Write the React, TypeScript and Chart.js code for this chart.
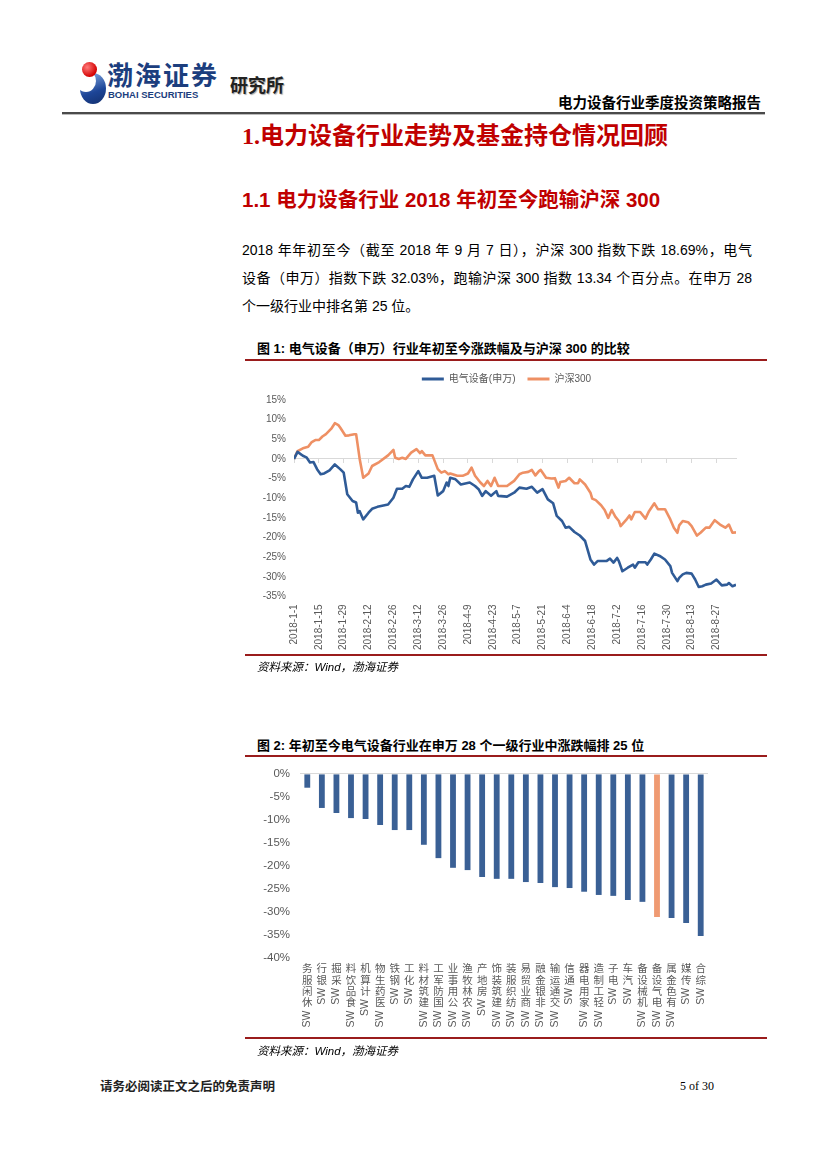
import React, { useEffect, useRef } from 'react';
import { Chart, registerables } from 'chart.js';

Chart.register(...registerables);

// ---------- Figure 1 data ----------
const lineSeriesNames = ['电气设备(申万)', '沪深300'];
// calendar days since 2018-1-1 used for the x ticks
const tickDays = [0, 14, 28, 42, 56, 70, 84, 98, 112, 126, 140, 154, 168, 182, 196, 210, 224, 238];
const tickLabels = ['2018-1-1', '2018-1-15', '2018-1-29', '2018-2-12', '2018-2-26', '2018-3-12', '2018-3-26', '2018-4-9', '2018-4-23', '2018-5-7', '2018-5-21', '2018-6-4', '2018-6-18', '2018-7-2', '2018-7-16', '2018-7-30', '2018-8-13', '2018-8-27'];
const xDayMin = 0;
const xDayMax = 249;
const yPctMin1 = -35;
const yPctMax1 = 15;

const elecDays = [0, 2, 5, 7, 9, 11, 13, 15, 17, 20, 23, 26, 28, 30, 33, 35, 36, 37, 39, 42, 44, 47, 53, 56, 58, 61, 63, 65, 67, 70, 72, 75, 79, 81, 84, 86, 87, 88, 91, 94, 99, 102, 104, 106, 108, 111, 114, 115, 120, 124, 127, 131, 134, 137, 140, 143, 146, 148, 151, 153, 155, 158, 161, 164, 167, 169, 171, 176, 178, 180, 182, 183, 185, 188, 191, 192, 194, 198, 199, 201, 203, 206, 209, 212, 213, 216, 217, 219, 221, 224, 226, 228, 230, 232, 235, 238, 241, 244, 245, 247, 249];
const elecValues = [0, 1.8, 0.8, 0.4, -0.9, -0.8, -2.6, -3.9, -3.7, -2.9, -1.4, -2.6, -3.5, -9.0, -10.7, -11.1, -13.7, -13.3, -15.4, -13.7, -12.7, -12.2, -11.6, -9.9, -7.6, -7.6, -6.9, -7.1, -5.2, -3.1, -4.8, -4.8, -4.3, -9.3, -8.2, -6.0, -6.9, -4.8, -5.2, -6.5, -6.0, -6.9, -7.7, -9.4, -8.2, -9.4, -8.2, -9.4, -9.6, -8.6, -7.3, -7.6, -7.1, -8.6, -7.7, -10.3, -11.3, -14.5, -15.8, -17.5, -17.3, -18.6, -19.5, -20.9, -25.6, -26.9, -26.0, -26.0, -25.4, -26.4, -25.2, -26.0, -28.6, -27.7, -26.9, -27.7, -26.3, -26.3, -26.9, -25.6, -24.1, -24.7, -25.6, -27.3, -29.0, -31.1, -30.3, -29.4, -29.0, -29.2, -30.7, -32.6, -32.4, -32.0, -31.7, -30.7, -32.2, -32.0, -31.6, -32.4, -32.03];

const hs300Days = [0, 2, 5, 8, 10, 12, 14, 16, 18, 21, 23, 25, 26, 29, 31, 34, 35, 37, 39, 42, 44, 48, 53, 56, 57, 59, 61, 63, 66, 69, 71, 72, 74, 78, 81, 83, 85, 87, 88, 92, 95, 98, 100, 102, 105, 107, 109, 111, 113, 115, 120, 124, 127, 129, 132, 134, 136, 138, 139, 142, 145, 147, 149, 150, 153, 155, 158, 160, 161, 164, 167, 168, 170, 173, 175, 177, 179, 181, 183, 184, 187, 189, 190, 192, 195, 198, 200, 203, 205, 209, 212, 214, 216, 217, 219, 222, 224, 227, 229, 232, 234, 237, 240, 243, 245, 247, 249];
const hs300Values = [0, 2.0, 2.7, 3.1, 4.3, 4.8, 4.8, 5.7, 6.3, 7.7, 9.1, 8.6, 8.0, 5.9, 6.0, 6.3, 6.3, 0, -4.8, -3.7, -1.8, -0.8, 0.9, 2.3, 0.3, 0, 0.3, 0, 1.6, 2.5, 1.5, 2.0, 0.9, 0.9, -2.6, -3.5, -3.1, -3.9, -3.7, -4.3, -4.3, -3.7, -2.2, -4.3, -6.0, -6.9, -5.6, -6.9, -4.8, -6.9, -6.9, -5.6, -3.9, -3.5, -3.3, -2.8, -4.2, -3.1, -2.8, -4.8, -5.0, -4.9, -7.3, -5.9, -5.6, -4.8, -6.2, -6.2, -5.2, -6.5, -8.6, -10.1, -10.5, -11.8, -13.0, -15.0, -13.0, -14.7, -15.8, -17.1, -15.6, -14.4, -15.4, -13.5, -13.5, -15.2, -13.3, -11.3, -12.8, -12.8, -15.4, -17.5, -18.8, -16.9, -15.8, -16.1, -17.1, -19.5, -18.8, -17.5, -17.5, -15.6, -16.7, -17.5, -16.7, -18.8, -18.69];

// ---------- Figure 2 data ----------
const industries = ['SW休闲服务', 'SW银行', 'SW采掘', 'SW食品饮料', 'SW计算机', 'SW医药生物', 'SW钢铁', 'SW化工', 'SW建筑材料', 'SW国防军工', 'SW公用事业', 'SW农林牧渔', 'SW房地产', 'SW建筑装饰', 'SW纺织服装', 'SW商业贸易', 'SW非银金融', 'SW交通运输', 'SW通信', 'SW家用电器', 'SW轻工制造', 'SW电子', 'SW汽车', 'SW机械设备', 'SW电气设备', 'SW有色金属', 'SW传媒', 'SW综合'];
const industryChanges = [-3.0, -7.4, -8.5, -9.6, -9.8, -11.1, -12.2, -12.2, -15.4, -18.3, -20.4, -20.9, -22.4, -22.8, -22.8, -23.5, -23.7, -24.6, -24.8, -25.6, -26.3, -26.5, -27.4, -27.8, -31.1, -31.3, -32.4, -35.2];
const highlightIndustry = 'SW电气设备';
const yPctMin2 = -40;
const yPctMax2 = 0;

// ---------- styles ----------
const BLUE = '#2f5b97';
const ORANGE = '#ee9064';
const BAR_BLUE = '#3a6095';
const BAR_ORANGE = '#ef9a72';
const AXIS_TEXT = '#595959';
const ZERO_LINE = '#d9d9d9';
const RED = '#c00000';
const RULE_RED = '#9a1c1c';
const SANS = '"Liberation Sans", Arial, "Noto Sans CJK SC", sans-serif';
const SERIF = '"Liberation Serif", "Times New Roman", "Noto Sans CJK SC", serif';

// legend: extra gap below it, and a small shift to the right
const legendTweak = {
  id: 'legendTweak',
  beforeInit(chart: any) {
    const lg = chart.legend;
    if (!lg) return;
    const fit = lg.fit;
    lg.fit = function () {
      fit.call(this);
      this.height += 6;
    };
  },
  afterLayout(chart: any) {
    if (chart.legend) chart.legend.left += 32;
  },
};

function LineFigure() {
  const ref = useRef<HTMLCanvasElement | null>(null);
  useEffect(() => {
    if (!ref.current) return;
    const setTicks = (s: any) => {
      s.ticks = tickDays.map((v) => ({ value: v }));
    };
    const chart = new Chart(ref.current, {
      type: 'line',
      data: {
        datasets: [
          {
            label: lineSeriesNames[0],
            data: elecDays.map((d, i) => ({ x: d, y: elecValues[i] })),
            borderColor: BLUE,
            backgroundColor: BLUE,
            borderWidth: 2.6,
            pointRadius: 0,
            borderJoinStyle: 'round',
            tension: 0,
          },
          {
            label: lineSeriesNames[1],
            data: hs300Days.map((d, i) => ({ x: d, y: hs300Values[i] })),
            borderColor: ORANGE,
            backgroundColor: ORANGE,
            borderWidth: 2.6,
            pointRadius: 0,
            borderJoinStyle: 'round',
            tension: 0,
          },
        ],
      },
      options: {
        animation: false,
        responsive: false,
        events: [],
        layout: { padding: { left: 0, right: 31, top: 1, bottom: 6 } },
        plugins: {
          legend: {
            position: 'top',
            labels: {
              boxWidth: 22,
              boxHeight: 3,
              padding: 12,
              color: AXIS_TEXT,
              font: { size: 10, family: SANS },
              generateLabels: (c: any) =>
                Chart.defaults.plugins.legend.labels.generateLabels(c).map((it: any) => ({ ...it, lineWidth: 0 })),
            },
          },
          tooltip: { enabled: false },
        },
        scales: {
          x: {
            type: 'linear',
            min: xDayMin,
            max: xDayMax,
            afterBuildTicks: setTicks,
            ticks: {
              autoSkip: false,
              minRotation: 90,
              maxRotation: 90,
              padding: 8,
              color: AXIS_TEXT,
              font: { size: 10, family: SANS },
              callback: (_v: any, i: number) => tickLabels[i],
            },
            grid: { display: false, drawTicks: false },
            border: { display: false },
          },
          xZero: {
            type: 'linear',
            axis: 'x',
            position: { y: 0 },
            min: xDayMin,
            max: xDayMax,
            afterBuildTicks: setTicks,
            ticks: { display: false },
            grid: { drawOnChartArea: false, drawTicks: true, tickLength: 4, color: ZERO_LINE },
            border: { display: true, color: ZERO_LINE, width: 1 },
          },
          y: {
            min: yPctMin1,
            max: yPctMax1,
            ticks: {
              stepSize: 5,
              padding: 8,
              color: AXIS_TEXT,
              font: { size: 10, family: SANS },
              callback: (v: any) => `${v}%`,
            },
            grid: { display: false, drawTicks: false },
            border: { display: false },
            afterFit: (s: any) => {
              s.width = 49;
            },
          },
        },
      } as any,
      plugins: [legendTweak],
    });
    return () => chart.destroy();
  }, []);
  return <canvas ref={ref} width={522} height={303} style={{ display: 'block' }} />;
}

const verticalLabels = {
  id: 'verticalLabels',
  afterDraw(chart: any) {
    const ctx = chart.ctx;
    const xs = chart.scales.x;
    const top = chart.chartArea.bottom + 6;
    const step = 11.4;
    ctx.save();
    ctx.fillStyle = AXIS_TEXT;
    ctx.font = `10.5px ${SANS}`;
    industries.forEach((name, i) => {
      const x = xs.getPixelForValue(i);
      const prefix = name.slice(0, 2);
      const rest = Array.from(name.slice(2)).reverse();
      let y = top;
      ctx.textAlign = 'center';
      ctx.textBaseline = 'top';
      rest.forEach((ch) => {
        ctx.fillText(ch, x, y);
        y += step;
      });
      ctx.save();
      ctx.translate(x, y + 1);
      ctx.rotate(-Math.PI / 2);
      ctx.textAlign = 'right';
      ctx.textBaseline = 'middle';
      ctx.fillText(prefix, 0, 0);
      ctx.restore();
    });
    ctx.restore();
  },
};

function BarFigure() {
  const ref = useRef<HTMLCanvasElement | null>(null);
  useEffect(() => {
    if (!ref.current) return;
    const chart = new Chart(ref.current, {
      type: 'bar',
      data: {
        labels: industries,
        datasets: [
          {
            data: industryChanges,
            backgroundColor: industries.map((n) => (n === highlightIndustry ? BAR_ORANGE : BAR_BLUE)),
            categoryPercentage: 0.8,
            barPercentage: 0.5,
          },
        ],
      },
      options: {
        animation: false,
        responsive: false,
        events: [],
        layout: { padding: { left: 0, right: 59, top: 10, bottom: 82 } },
        plugins: { legend: { display: false }, tooltip: { enabled: false } },
        scales: {
          x: { display: false },
          y: {
            min: yPctMin2,
            max: yPctMax2,
            ticks: {
              stepSize: 5,
              padding: 10,
              color: AXIS_TEXT,
              font: { size: 11.5, family: SANS },
              callback: (v: any) => `${v}%`,
            },
            grid: {
              drawTicks: false,
              color: (c: any) => (c.tick && c.tick.value === 0 ? ZERO_LINE : 'rgba(0,0,0,0)'),
            },
            border: { display: false },
            afterFit: (s: any) => {
              s.width = 55;
            },
          },
        },
      } as any,
      plugins: [verticalLabels],
    });
    return () => chart.destroy();
  }, []);
  return <canvas ref={ref} width={522} height={283} style={{ display: 'block' }} />;
}

const abs = (left: number, top: number, extra: React.CSSProperties = {}): React.CSSProperties => ({
  position: 'absolute',
  left,
  top,
  whiteSpace: 'nowrap',
  ...extra,
});

export default function App() {
  const para: React.CSSProperties = { textAlign: 'justify', textAlignLast: 'justify' as any, whiteSpace: 'nowrap' };
  return (
    <div style={{ position: 'absolute', left: 0, top: 0, width: 827, height: 1169, background: '#fff', fontFamily: SANS, color: '#000' }}>
      {/* logo */}
      <div style={abs(80, 73, { width: 26, height: 31, borderRadius: '50%', background: 'linear-gradient(160deg,#8fb4ea,#1d4597 60%,#13306e)' })} />
      <div style={abs(76, 70, { width: 20, height: 22, borderRadius: '50%', background: '#fff' })} />
      <div style={abs(82, 62, { width: 15, height: 15, borderRadius: '50%', background: 'radial-gradient(circle at 35% 35%,#ff7a7a,#d40000 70%)' })} />
      <div style={abs(107, 58, { fontSize: 26, fontWeight: 700, color: '#1c3e7e', letterSpacing: 2, fontFamily: '"Noto Sans CJK SC", sans-serif', lineHeight: '32px' })}>渤海证券</div>
      <div style={abs(108, 89, { fontSize: 9.5, fontWeight: 700, color: '#1c3e7e', fontFamily: SANS, lineHeight: '12px' })}>BOHAI SECURITIES</div>
      <div style={abs(230, 72, { fontSize: 18, fontWeight: 700, color: '#222', textShadow: '1px 1px 1px #aaa', fontFamily: '"Noto Sans CJK SC", sans-serif', lineHeight: '24px' })}>研究所</div>
      <div style={abs(0, 92, { width: 761, textAlign: 'right', fontSize: 14.5, fontWeight: 700, fontFamily: '"Noto Sans CJK SC", sans-serif', lineHeight: '20px' })}>电力设备行业季度投资策略报告</div>
      <div style={abs(62, 112, { width: 703, height: 2, background: '#4a4a4a', borderBottom: '1px solid #bbb' })} />

      {/* headings */}
      <div style={abs(242, 120, { fontSize: 24, fontWeight: 700, color: RED, fontFamily: SERIF, lineHeight: '32px' })}>1.电力设备行业走势及基金持仓情况回顾</div>
      <div style={abs(242, 186, { fontSize: 20.5, fontWeight: 700, color: RED, fontFamily: SANS, lineHeight: '28px' })}>1.1 电力设备行业 2018 年初至今跑输沪深 300</div>

      {/* paragraph */}
      <div style={abs(242, 236, { width: 510, fontSize: 14, lineHeight: '28px', whiteSpace: 'normal' })}>
        <div style={para}>2018 年年初至今（截至 2018 年 9 月 7 日），沪深 300 指数下跌 18.69%，电气</div>
        <div style={para}>设备（申万）指数下跌 32.03%，跑输沪深 300 指数 13.34 个百分点。在申万 28</div>
        <div style={{ whiteSpace: 'nowrap' }}>个一级行业中排名第 25 位。</div>
      </div>

      {/* figure 1 */}
      <div style={abs(257, 340, { fontSize: 13, fontWeight: 700, lineHeight: '18px' })}>图 1: 电气设备（申万）行业年初至今涨跌幅及与沪深 300 的比较</div>
      <div style={abs(245, 361)}>
        <LineFigure />
      </div>
      <div style={abs(245, 359, { width: 522, height: 2, background: RULE_RED })} />
      <div style={abs(245, 654, { width: 522, height: 2, background: RULE_RED })} />
      <div style={abs(257, 659, { fontSize: 11.5, fontStyle: 'italic', lineHeight: '16px', background: '#fff' })}>资料来源：Wind，渤海证券</div>

      {/* figure 2 */}
      <div style={abs(257, 737, { fontSize: 13, fontWeight: 700, lineHeight: '18px' })}>图 2: 年初至今电气设备行业在申万 28 个一级行业中涨跌幅排 25 位</div>
      <div style={abs(245, 757)}>
        <BarFigure />
      </div>
      <div style={abs(245, 755, { width: 522, height: 2, background: RULE_RED })} />
      <div style={abs(245, 1037, { width: 522, height: 2, background: RULE_RED })} />
      <div style={abs(257, 1043, { fontSize: 11.5, fontStyle: 'italic', lineHeight: '16px' })}>资料来源：Wind，渤海证券</div>

      {/* footer */}
      <div style={abs(100, 1077, { fontSize: 12.5, fontWeight: 700, color: '#222', fontFamily: '"Noto Sans CJK SC", sans-serif', lineHeight: '18px' })}>请务必阅读正文之后的免责声明</div>
      <div style={abs(680, 1077, { fontSize: 12, fontFamily: SERIF, lineHeight: '18px' })}>5 of 30</div>
    </div>
  );
}
